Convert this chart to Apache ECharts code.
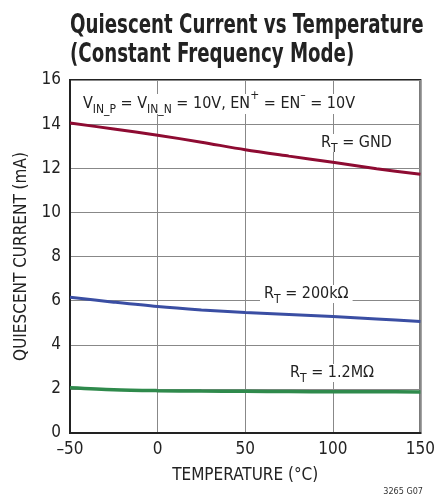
<!DOCTYPE html>
<html><head><meta charset="utf-8">
<script src="https://cdn.jsdelivr.net/npm/echarts@6/dist/echarts.min.js"></script>
<style>html,body{margin:0;padding:0;background:#fff}#c{width:438px;height:498px}</style>
</head><body><div id="c"></div>
<script>
var temps = [-50, -25, 0, 25, 50, 75, 100, 125, 150];
var rtGnd = [14.05, 13.78, 13.5, 13.18, 12.84, 12.55, 12.27, 11.98, 11.73];
var rt200k = [6.15, 5.93, 5.73, 5.58, 5.46, 5.37, 5.28, 5.17, 5.05];
var rt1M2 = [2.05, 1.96, 1.92, 1.90, 1.89, 1.88, 1.87, 1.87, 1.86];
var xTicks = [-50, 0, 50, 100, 150];
var yTicks = [0, 2, 4, 6, 8, 10, 12, 14, 16];

var FONT = '"Liberation Sans Narrow", "DejaVu Sans Condensed", "Liberation Sans", sans-serif';
function pairs(v){ return temps.map(function(t,i){ return [t, v[i]]; }); }

var chart = echarts.init(document.getElementById('c'));
var sub = {fontFamily: FONT, fontSize: 12, color: '#222', verticalAlign: 'bottom', padding:[0,0,-4,0]};
var sup = {fontFamily: FONT, fontSize: 12, color: '#222', verticalAlign: 'top', padding:[-6,0,0,0]};
chart.setOption({
  animation: false,
  grid: {left: 70, right: 17, top: 80, bottom: 65, show: true, borderColor: '#222', borderWidth: 2, backgroundColor: 'transparent'},
  xAxis: {
    type: 'value', min: xTicks[0], max: xTicks[xTicks.length-1], interval: 50,
    name: 'TEMPERATURE (°C)', nameLocation: 'middle', nameGap: 34,
    nameTextStyle: {fontFamily: FONT, fontSize: 17, color: '#222'},
    axisLine: {onZero: false, lineStyle: {color: '#222', width: 2}},
    axisTick: {show: false},
    axisLabel: {fontFamily: FONT, fontSize: 17, color: '#222', margin: 8,
      formatter: function(v){ return String(v).replace('-', '\u2013'); }},
    splitLine: {lineStyle: {color: '#888', width: 1}}
  },
  yAxis: {
    type: 'value', min: yTicks[0], max: yTicks[yTicks.length-1], interval: 2,
    name: 'QUIESCENT CURRENT (mA)', nameLocation: 'middle', nameGap: 40,
    nameTextStyle: {fontFamily: FONT, fontSize: 17, color: '#222'},
    axisLine: {show: true, onZero: false, lineStyle: {color: '#222', width: 2}},
    axisTick: {show: false},
    axisLabel: {fontFamily: FONT, fontSize: 17, color: '#222', margin: 9},
    splitLine: {lineStyle: {color: '#888', width: 1}}
  },
  series: [
    {type: 'line', data: pairs(rtGnd), smooth: 0.3, showSymbol: false, lineStyle: {color: '#8e0b32', width: 3}, z: 3},
    {type: 'line', data: pairs(rt200k), smooth: 0.3, showSymbol: false, lineStyle: {color: '#3a4ea3', width: 3}, z: 3},
    {type: 'line', data: pairs(rt1M2), smooth: 0.3, showSymbol: false, lineStyle: {color: '#2f8a4c', width: 3.5}, z: 3}
  ],
  graphic: [
    {type: 'text', x: 70, y: 11, scaleX: 0.75, style: {text: 'Quiescent Current vs Temperature\n(Constant Frequency Mode)', font: 'bold 27px ' + FONT, fill: '#222', lineHeight: 29}},
    {type: 'text', left: 80, top: 90, z: 10, style: {
      text: 'V{s|IN_P} = V{s|IN_N} = 10V, EN{p|+} = EN{p|\u2013} = 10V',
      fontFamily: FONT, fontSize: 16, fill: '#222', backgroundColor: '#fff', padding: [2, 3, 2, 3],
      rich: {s: sub, p: sup}}},
    {type: 'text', left: 318, top: 134, z: 10, style: {
      text: 'R{s|T} = GND', fontFamily: FONT, fontSize: 16, fill: '#222', backgroundColor: '#fff', padding: [1, 3, 1, 3], rich: {s: sub}}},
    {type: 'text', left: 260, top: 285, z: 10, style: {
      text: 'R{s|T} = 200k\u03a9', fontFamily: FONT, fontSize: 16, fill: '#222', backgroundColor: '#fff', padding: [1, 4, 1, 4], rich: {s: sub}}},
    {type: 'text', left: 287, top: 364, z: 10, style: {
      text: 'R{s|T} = 1.2M\u03a9', fontFamily: FONT, fontSize: 16, fill: '#222', backgroundColor: '#fff', padding: [1, 3, 1, 3], rich: {s: sub}}},
    {type: 'text', right: 15, top: 487, style: {text: '3265 G07', fontFamily: FONT, fontSize: 9, fill: '#333'}}
  ]
});
</script></body></html>
